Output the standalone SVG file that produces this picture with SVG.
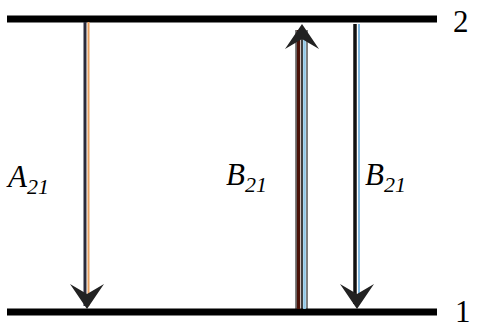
<svg xmlns="http://www.w3.org/2000/svg" width="478" height="332" viewBox="0 0 478 332">
<style>
.lvl{stroke:#000;stroke-width:7}
.lbl{font-family:"Liberation Serif",serif;font-style:italic;fill:#000}
.main{font-size:31px}
.sub{font-size:22px}
.num{font-family:"Liberation Serif",serif;font-size:31px;fill:#000}
</style>
<defs>
<marker id="ah" markerUnits="userSpaceOnUse" markerWidth="30" markerHeight="40" refX="0" refY="0" viewBox="-26 -20 30 40" orient="auto" overflow="visible">
<path d="M0,0 L-25,-17 L-15,0 L-25,17 Z" fill="#222"/>
</marker>
</defs>
<g id="level2">
<line class="lvl" x1="7" y1="19" x2="437" y2="19"/>
<text class="num" x="453" y="32">2</text>
</g>
<g id="level1">
<line class="lvl" x1="7" y1="312" x2="437" y2="312"/>
<text class="num" x="455" y="322">1</text>
</g>
<g id="connectors">
<g id="A21">
<line x1="85" y1="22" x2="85" y2="306" stroke="#2a2a3a" stroke-width="3"/>
<line x1="88.5" y1="22" x2="88.5" y2="306" stroke="#e8a060" stroke-width="2"/>
<line x1="87" y1="22" x2="87" y2="309" stroke="none" marker-end="url(#ah)"/>
<text class="lbl" x="8" y="187"><tspan class="main">A</tspan><tspan class="sub" dy="7">21</tspan></text>
</g>
<g id="B21up">
<line x1="298.5" y1="309" x2="298.5" y2="30" stroke="#4a1208" stroke-width="3.5"/>
<line x1="304.5" y1="309" x2="304.5" y2="30" stroke="#90c8e8" stroke-width="2.5"/>
<line x1="296" y1="309" x2="296" y2="30" stroke="#000" stroke-width="1"/>
<line x1="302" y1="309" x2="302" y2="30" stroke="#000" stroke-width="1.5"/>
<line x1="307" y1="309" x2="307" y2="30" stroke="#000" stroke-width="1"/>
<line x1="302" y1="300" x2="302" y2="24" stroke="none" marker-end="url(#ah)"/>
<text class="lbl" x="226" y="185"><tspan class="main">B</tspan><tspan class="sub" dy="7">21</tspan></text>
</g>
<g id="B21">
<line x1="355" y1="24" x2="355" y2="304" stroke="#111" stroke-width="3.5"/>
<line x1="359" y1="24" x2="359" y2="304" stroke="#80b8e0" stroke-width="2"/>
<line x1="357" y1="24" x2="357" y2="309" stroke="none" marker-end="url(#ah)"/>
<text class="lbl" x="365" y="185"><tspan class="main">B</tspan><tspan class="sub" dy="7">21</tspan></text>
</g>
</g>
</svg>
